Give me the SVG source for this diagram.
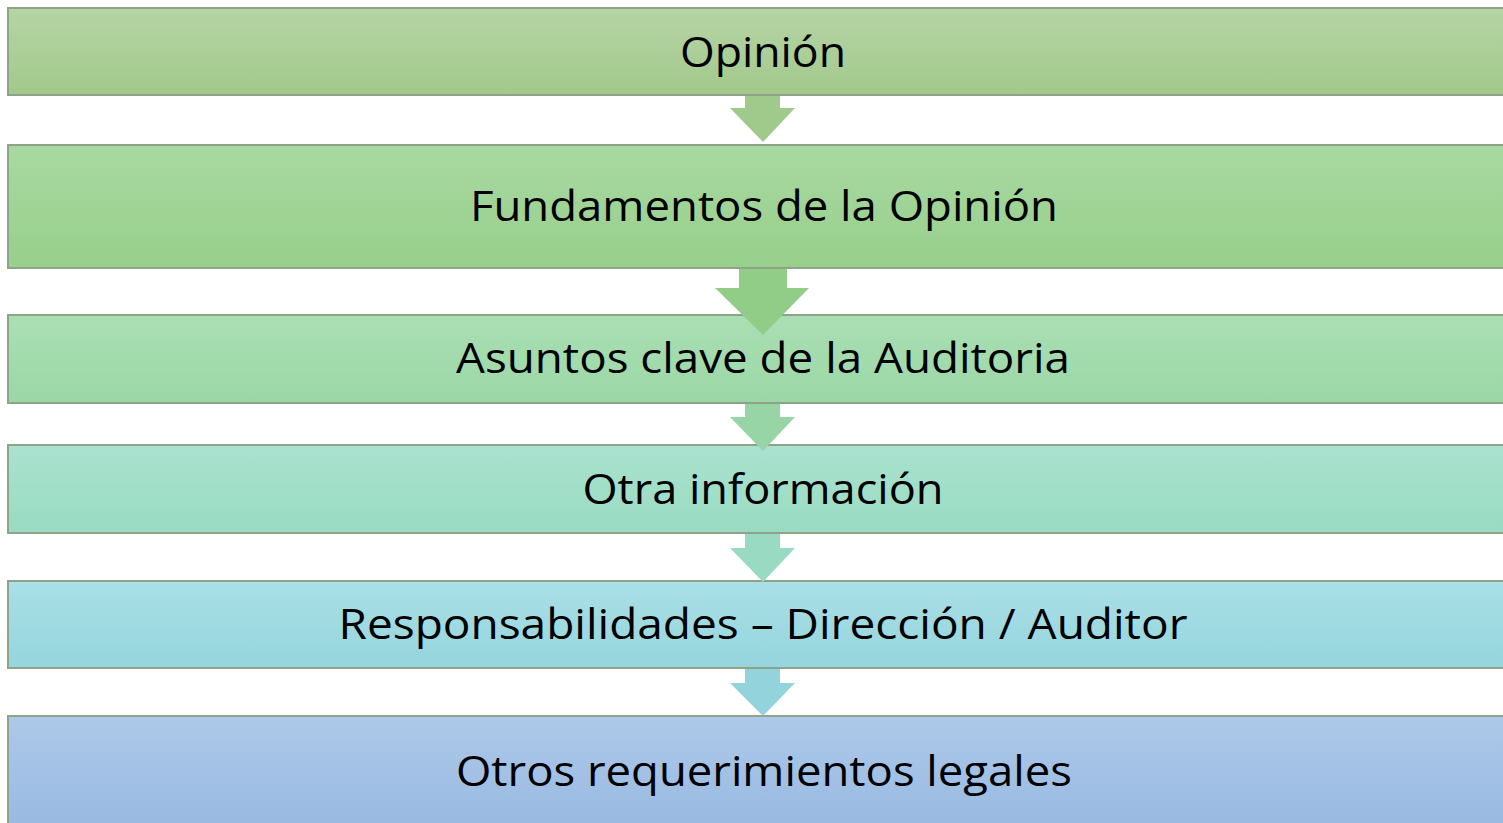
<svg xmlns="http://www.w3.org/2000/svg" width="1503" height="823" viewBox="0 0 1503 823">
<style>
.box{stroke:#8fa28a;stroke-width:2}
.lbl{font-family:"Open Sans","Liberation Sans",sans-serif;font-size:42px;fill:#000;text-anchor:middle}
.arr{stroke:none}
</style>
<defs>
<linearGradient id="g1" x1="0" y1="0" x2="0" y2="1"><stop offset="0" stop-color="#b6d4a5"/><stop offset="1" stop-color="#a2c98c"/></linearGradient>
<linearGradient id="g2" x1="0" y1="0" x2="0" y2="1"><stop offset="0" stop-color="#a9d9a2"/><stop offset="1" stop-color="#97cf8b"/></linearGradient>
<linearGradient id="g3" x1="0" y1="0" x2="0" y2="1"><stop offset="0" stop-color="#aadfb4"/><stop offset="1" stop-color="#9bd7a6"/></linearGradient>
<linearGradient id="g4" x1="0" y1="0" x2="0" y2="1"><stop offset="0" stop-color="#aae2cf"/><stop offset="1" stop-color="#99dbc2"/></linearGradient>
<linearGradient id="g5" x1="0" y1="0" x2="0" y2="1"><stop offset="0" stop-color="#aadfe6"/><stop offset="1" stop-color="#95d5dd"/></linearGradient>
<linearGradient id="g6" x1="0" y1="0" x2="0" y2="1"><stop offset="0" stop-color="#adc9e9"/><stop offset="1" stop-color="#97b8e1"/></linearGradient>
</defs>
<rect width="1503" height="823" fill="#ffffff"/>
<g id="n1"><rect class="box" x="8" y="8" width="1500" height="87" fill="url(#g1)"/><text class="lbl" x="763" y="67" textLength="166" lengthAdjust="spacingAndGlyphs">Opinión</text></g>
<g id="n2"><rect class="box" x="8" y="145" width="1500" height="123" fill="url(#g2)"/><text class="lbl" x="764" y="221" textLength="588" lengthAdjust="spacingAndGlyphs">Fundamentos de la Opinión</text></g>
<g id="n3"><rect class="box" x="8" y="315" width="1500" height="88" fill="url(#g3)"/><text class="lbl" x="763" y="373" textLength="614" lengthAdjust="spacingAndGlyphs">Asuntos clave de la Auditoria</text></g>
<g id="n4"><rect class="box" x="8" y="445" width="1500" height="88" fill="url(#g4)"/><text class="lbl" x="763" y="504" textLength="361" lengthAdjust="spacingAndGlyphs">Otra información</text></g>
<g id="n5"><rect class="box" x="8" y="581" width="1500" height="87" fill="url(#g5)"/><text class="lbl" x="763" y="639" textLength="849" lengthAdjust="spacingAndGlyphs">Responsabilidades – Dirección / Auditor</text></g>
<g id="n6"><rect class="box" x="8" y="716" width="1500" height="120" fill="url(#g6)"/><text class="lbl" x="764" y="786" textLength="616" lengthAdjust="spacingAndGlyphs">Otros requerimientos legales</text></g>
<g id="connectors">
<polygon class="arr" fill="#a0ca8c" points="745,96 780,96 780,108 795,108 763,142 730,108 745,108"/>
<polygon class="arr" fill="#92cd88" points="739,269 787,269 787,288 809,288 763,335 715,288 739,288"/>
<polygon class="arr" fill="#98d5a6" points="745,404 780,404 780,417 795,417 763,451 730,417 745,417"/>
<polygon class="arr" fill="#98dbc2" points="745,534 780,534 780,548 795,548 763,582 730,548 745,548"/>
<polygon class="arr" fill="#92d3dc" points="745,669 780,669 780,683 795,683 763,716 730,683 745,683"/>
</g>
</svg>
